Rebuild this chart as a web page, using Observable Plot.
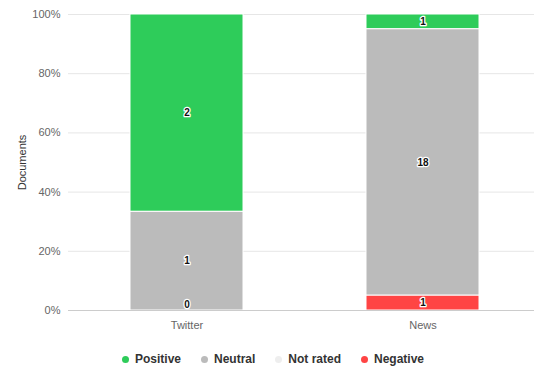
<!DOCTYPE html>
<html>
<head>
<meta charset="utf-8">
<script src="https://cdn.jsdelivr.net/npm/d3@7"></script>
<script src="https://cdn.jsdelivr.net/npm/@observablehq/plot@0.6"></script>
<style>
  html, body { margin: 0; padding: 0; background: #fff; }
  body { width: 534px; font-family: "Liberation Sans", Arial, sans-serif; }
  #legend { display: flex; justify-content: center; align-items: center; height: 22px; margin-top: 13px; font-size: 12px; font-weight: bold; color: #333; padding-left: 12px; }
  #legend .item { display: flex; align-items: center; margin: 0 10px; }
  #legend .dot { width: 7px; height: 7px; border-radius: 50%; margin-right: 6px; }
  svg [aria-label="y-axis label"] text { fill: #333; }
</style>
</head>
<body>
<div id="chart"></div>
<div id="legend"></div>
<script>
const categories = ["Twitter", "News"];
const seriesNames = ["Positive", "Neutral", "Not rated", "Negative"];
const positive = [2, 1];
const neutral = [1, 18];
const notRated = [0, 0];
const negative = [0, 1];
const colors = ["#2ecc5a", "#bbbbbb", "#eeeeee", "#ff4444"];

const seriesValues = [positive, neutral, notRated, negative];
const data = [];
seriesNames.forEach((s, si) => {
  categories.forEach((c, ci) => {
    data.push({category: c, series: s, value: seriesValues[si][ci]});
  });
});
const stackOrder = ["Negative", "Not rated", "Neutral", "Positive"];
const labelData = data.filter(d => d.series !== "Not rated");
const stackOpts = {x: "category", y: "value", z: "series", order: stackOrder, offset: "normalize"};
const textStyle = {text: "value", fill: "#111", stroke: "white", strokeWidth: 2.5, fontSize: 10, fontWeight: "bold"};

const chart = Plot.plot({
  width: 534,
  height: 335,
  marginLeft: 68,
  marginRight: 0,
  marginTop: 14,
  marginBottom: 25,
  style: {fontFamily: "'Liberation Sans', Arial, sans-serif", fontSize: "11px", color: "#666", background: "#fff"},
  x: {domain: categories, range: [68.5, 540.5], paddingInner: 0.52, paddingOuter: 0.26, label: null, tickSize: 0, tickPadding: 11},
  y: {domain: [0, 1], ticks: [0, 0.2, 0.4, 0.6, 0.8, 1], tickFormat: d => Math.round(d * 100) + "%", tickSize: 0, tickPadding: 8,
      label: "Documents", labelAnchor: "center", labelArrow: "none", labelOffset: 50},
  color: {domain: seriesNames, range: colors},
  marks: [
    Plot.gridY([0.2, 0.4, 0.6, 0.8, 1], {stroke: "#e6e6e6", strokeOpacity: 1}),
    Plot.barY(data, Plot.stackY({...stackOpts, fill: "series", filter: d => d.value > 0, stroke: "white", strokeWidth: 1})),
    Plot.ruleY([0], {stroke: "#cccccc"}),
    Plot.text(labelData, Plot.stackY({...stackOpts, ...textStyle, filter: d => d.value > 0})),
    Plot.text(labelData, Plot.stackY({...stackOpts, ...textStyle, filter: d => d.value === 0 && d.series === "Negative", dy: -6}))
  ]
});
document.getElementById("chart").appendChild(chart);

const legend = document.getElementById("legend");
seriesNames.forEach((s, i) => {
  const item = document.createElement("div");
  item.className = "item";
  const dot = document.createElement("span");
  dot.className = "dot";
  dot.style.background = colors[i];
  const label = document.createElement("span");
  label.textContent = s;
  item.appendChild(dot);
  item.appendChild(label);
  legend.appendChild(item);
});
</script>
</body>
</html>
